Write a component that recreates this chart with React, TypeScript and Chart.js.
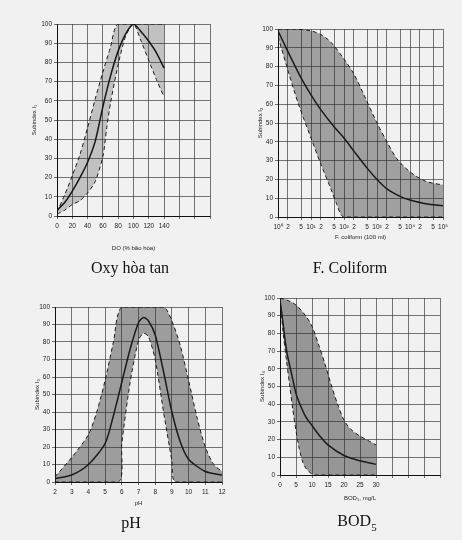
import React, { useEffect, useRef } from "react";
import { Chart, registerables } from "chart.js";
Chart.register(...registerables);

// ---------- Data ----------
// Oxy hoa tan (DO, % saturation)
const doSolidX = [0, 10, 20, 30, 40, 50, 60, 70, 80, 90, 100, 110, 120, 130, 140];
const doSolidY = [3, 7, 13, 20, 28, 39, 57, 73, 86, 95, 100, 96, 91, 85, 77];
const doUpperX = [0, 10, 20, 30, 40, 50, 60, 70, 80, 140];
const doUpperY = [2, 11, 21, 32, 46, 61, 75, 88, 100, 100];
const doLowerX = [0, 10, 20, 30, 40, 50, 60, 65, 70, 80, 90, 100, 110, 120, 130, 140];
const doLowerY = [1, 3, 6, 8, 12, 18, 31, 46, 59, 79, 94, 100, 91, 81, 71, 62];

// F. coliform (per 100 ml)
const colSolidX = [1, 2, 5, 10, 20, 50, 100, 200, 500, 1000, 2000, 5000, 10000, 30000, 100000];
const colSolidY = [99, 88, 74, 65, 57, 48, 42, 35, 26, 20, 15, 11, 9, 7, 6];
const colUpperX = [1, 3, 10, 20, 40, 100, 200, 400, 1000, 2000, 4000, 10000, 30000, 100000];
const colUpperY = [100, 100, 99, 97, 93, 84, 76, 65, 50, 40, 31, 24, 19, 17];
const colLowerX = [1, 2, 4, 10, 20, 40, 60, 100, 100000];
const colLowerY = [96, 78, 61, 42, 28, 15, 7, 0, 0];
const colTicks = [1, 2, 5, 10, 20, 50, 100, 200, 500, 1000, 2000, 5000, 10000, 20000, 50000, 100000];

// pH
const phSolidX = [2, 3, 4, 5, 5.5, 6, 6.5, 7, 7.3, 7.6, 8, 8.5, 9, 9.5, 10, 11, 12];
const phSolidY = [2, 4, 10, 22, 38, 57, 76, 91, 94, 92, 84, 63, 40, 23, 13, 6, 4];
const phOuterX = [2, 3, 4, 4.5, 5, 5.5, 6, 8.5, 9, 9.5, 10, 10.5, 11, 11.5, 12];
const phOuterY = [3, 14, 27, 40, 58, 80, 100, 100, 92, 78, 58, 37, 20, 10, 6];
const phInnerX = [2, 5.8, 6, 6.5, 7, 7.3, 7.6, 8, 8.5, 9, 9.2, 12];
const phInnerY = [0, 0, 22, 57, 81, 85, 83, 70, 40, 12, 0, 0];

// BOD5, mg/L
const bodSolidX = [0, 1, 2, 3, 4, 5, 6, 8, 10, 12, 15, 20, 25, 30];
const bodSolidY = [99, 85, 71, 62, 54, 46, 41, 33, 28, 23, 17, 11, 8, 6];
const bodUpperX = [0, 2, 5, 8, 10, 12, 14, 16, 18, 20, 22, 25, 28, 30];
const bodUpperY = [100, 99, 96, 90, 84, 74, 63, 51, 40, 31, 26, 22, 19, 17];
const bodLowerX = [0, 1, 2, 3, 4, 5, 6, 7, 8, 9, 10, 11, 30];
const bodLowerY = [99, 80, 65, 51, 37, 25, 15, 8, 4, 2, 0.5, 0, 0];

const FONT = "'Liberation Sans', Arial, sans-serif";
const SUP = ["⁰", "¹", "²", "³", "⁴", "⁵", "⁶"];

const pts = (xs: number[], ys: number[]) => xs.map((x, i) => ({ x, y: ys[i] }));

type Cfg = {
  xType: "linear" | "logarithmic";
  xMin: number;
  xMax: number;
  xStep?: number;
  xTickList?: number[];
  xLabel: (v: number) => string;
  xTitle: string;
  yTitle: string;
  pad: { top: number; right: number; bottom: number; left: number };
  yWidth: number;
  xHeight: number;
  yTitlePad: number;
  xTitlePad: number;
  upper: { x: number; y: number }[];
  lower: { x: number; y: number }[];
  solid: { x: number; y: number }[];
  fillColor: string;
  tension: number;
};

function buildConfig(c: Cfg): any {
  const tickFont = { family: FONT, size: 6.5 };
  const grid = { color: "#3c3c3c", lineWidth: 0.7, drawTicks: true, tickLength: 3, tickColor: "#333" };
  const dashed = {
    borderColor: "#1a1a1a",
    borderWidth: 1,
    borderDash: [4, 3],
    pointRadius: 0,
    tension: c.tension,
  };
  return {
    type: "line",
    data: {
      datasets: [
        { ...dashed, data: c.upper, fill: "+1", backgroundColor: c.fillColor },
        { ...dashed, data: c.lower, fill: false },
        {
          data: c.solid,
          borderColor: "#111",
          borderWidth: 1.5,
          pointRadius: 0,
          fill: false,
          tension: c.tension,
        },
      ],
    },
    options: {
      responsive: false,
      animation: false,
      devicePixelRatio: 1,
      layout: { padding: c.pad },
      plugins: { legend: { display: false }, tooltip: { enabled: false } },
      scales: {
        x: {
          type: c.xType,
          min: c.xMin,
          max: c.xMax,
          ticks: {
            stepSize: c.xStep,
            autoSkip: false,
            maxRotation: 0,
            minRotation: 0,
            padding: 3,
            font: tickFont,
            color: "#222",
            callback: (v: any) => c.xLabel(Number(v)),
          },
          grid,
          border: { color: "#111", width: 1 },
          title: {
            display: true,
            text: c.xTitle,
            font: { family: FONT, size: 6 },
            color: "#222",
            padding: { top: 0, bottom: c.xTitlePad },
          },
          afterBuildTicks: c.xTickList
            ? (s: any) => {
                s.ticks = c.xTickList!.map((v) => ({ value: v }));
              }
            : undefined,
          afterFit: (s: any) => {
            s.height = c.xHeight;
          },
        },
        y: {
          min: 0,
          max: 100,
          ticks: {
            stepSize: 10,
            padding: 2,
            font: tickFont,
            color: "#222",
          },
          grid,
          border: { color: "#111", width: 1 },
          title: {
            display: true,
            text: c.yTitle,
            font: { family: FONT, size: 6 },
            color: "#222",
            padding: { top: c.yTitlePad, bottom: 0 },
          },
          afterFit: (s: any) => {
            s.width = c.yWidth;
          },
        },
      },
    },
  };
}

function Panel(props: { left: number; top: number; width: number; height: number; cfg: Cfg }) {
  const ref = useRef<HTMLCanvasElement>(null);
  useEffect(() => {
    const chart = new Chart(ref.current as HTMLCanvasElement, buildConfig(props.cfg));
    return () => chart.destroy();
  }, []);
  return (
    <canvas
      ref={ref}
      width={props.width}
      height={props.height}
      style={{ position: "absolute", left: props.left, top: props.top, width: props.width, height: props.height }}
    />
  );
}

const doCfg: Cfg = {
  xType: "linear",
  xMin: 0,
  xMax: 200,
  xStep: 20,
  xLabel: (v) => (v <= 140 ? String(v) : ""),
  xTitle: "DO (% bão hòa)",
  yTitle: "Subindex I₁",
  pad: { top: 24, right: 21, bottom: 24, left: 0 },
  yWidth: 57,
  xHeight: 40,
  yTitlePad: 31,
  xTitlePad: 4,
  upper: pts(doUpperX, doUpperY),
  lower: pts(doLowerX, doLowerY),
  solid: pts(doSolidX, doSolidY),
  fillColor: "rgba(40,40,40,0.24)",
  tension: 0.25,
};

const colCfg: Cfg = {
  xType: "logarithmic",
  xMin: 1,
  xMax: 100000,
  xTickList: colTicks,
  xLabel: (v) => {
    const k = Math.round(Math.log10(v));
    if (Math.abs(Math.pow(10, k) - v) < 1e-6) return "10" + SUP[k];
    return String(Math.round(v / Math.pow(10, Math.floor(Math.log10(v)))));
  },
  xTitle: "F. coliform (100 ml)",
  yTitle: "Subindex I₂",
  pad: { top: 29, right: 19, bottom: 33, left: 0 },
  yWidth: 47,
  xHeight: 30,
  yTitlePad: 26,
  xTitlePad: 6,
  upper: pts(colUpperX, colUpperY),
  lower: pts(colLowerX, colLowerY),
  solid: pts(colSolidX, colSolidY),
  fillColor: "rgba(40,40,40,0.4)",
  tension: 0.3,
};

const phCfg: Cfg = {
  xType: "linear",
  xMin: 2,
  xMax: 12,
  xStep: 1,
  xLabel: (v) => String(v),
  xTitle: "pH",
  yTitle: "Subindex I₃",
  pad: { top: 27, right: 9, bottom: 32, left: 0 },
  yWidth: 55,
  xHeight: 26,
  yTitlePad: 34,
  xTitlePad: 1,
  upper: pts(phOuterX, phOuterY),
  lower: pts(phInnerX, phInnerY),
  solid: pts(phSolidX, phSolidY),
  fillColor: "rgba(40,40,40,0.42)",
  tension: 0.25,
};

const bodCfg: Cfg = {
  xType: "linear",
  xMin: 0,
  xMax: 50,
  xStep: 5,
  xLabel: (v) => (v <= 30 ? String(v) : ""),
  xTitle: "BOD₅, mg/L",
  yTitle: "Subindex I₄",
  pad: { top: 18, right: 22, bottom: 38, left: 0 },
  yWidth: 49,
  xHeight: 27,
  yTitlePad: 28,
  xTitlePad: 0,
  upper: pts(bodUpperX, bodUpperY),
  lower: pts(bodLowerX, bodLowerY),
  solid: pts(bodSolidX, bodSolidY),
  fillColor: "rgba(40,40,40,0.45)",
  tension: 0.3,
};

const captionStyle = (cx: number, cy: number): React.CSSProperties => ({
  position: "absolute",
  left: cx,
  top: cy,
  transform: "translate(-50%, -50%)",
  fontFamily: "'Liberation Serif', 'DejaVu Serif', serif",
  fontSize: 16,
  lineHeight: 1,
  color: "#111",
  whiteSpace: "nowrap",
});

export default function App() {
  return (
    <div
      style={{
        position: "fixed",
        left: 0,
        top: 0,
        width: 462,
        height: 540,
        background: "#f1f1f1",
        overflow: "hidden",
      }}
    >
      <Panel left={0} top={0} width={231} height={280} cfg={doCfg} />
      <Panel left={231} top={0} width={231} height={280} cfg={colCfg} />
      <Panel left={0} top={280} width={231} height={260} cfg={phCfg} />
      <Panel left={231} top={280} width={231} height={260} cfg={bodCfg} />
      <div style={captionStyle(130, 268)}>Oxy hòa tan</div>
      <div style={captionStyle(350, 268)}>F. Coliform</div>
      <div style={captionStyle(131, 523)}>pH</div>
      <div style={captionStyle(357, 523)}>
        BOD<sub style={{ fontSize: 11 }}>5</sub>
      </div>
    </div>
  );
}
